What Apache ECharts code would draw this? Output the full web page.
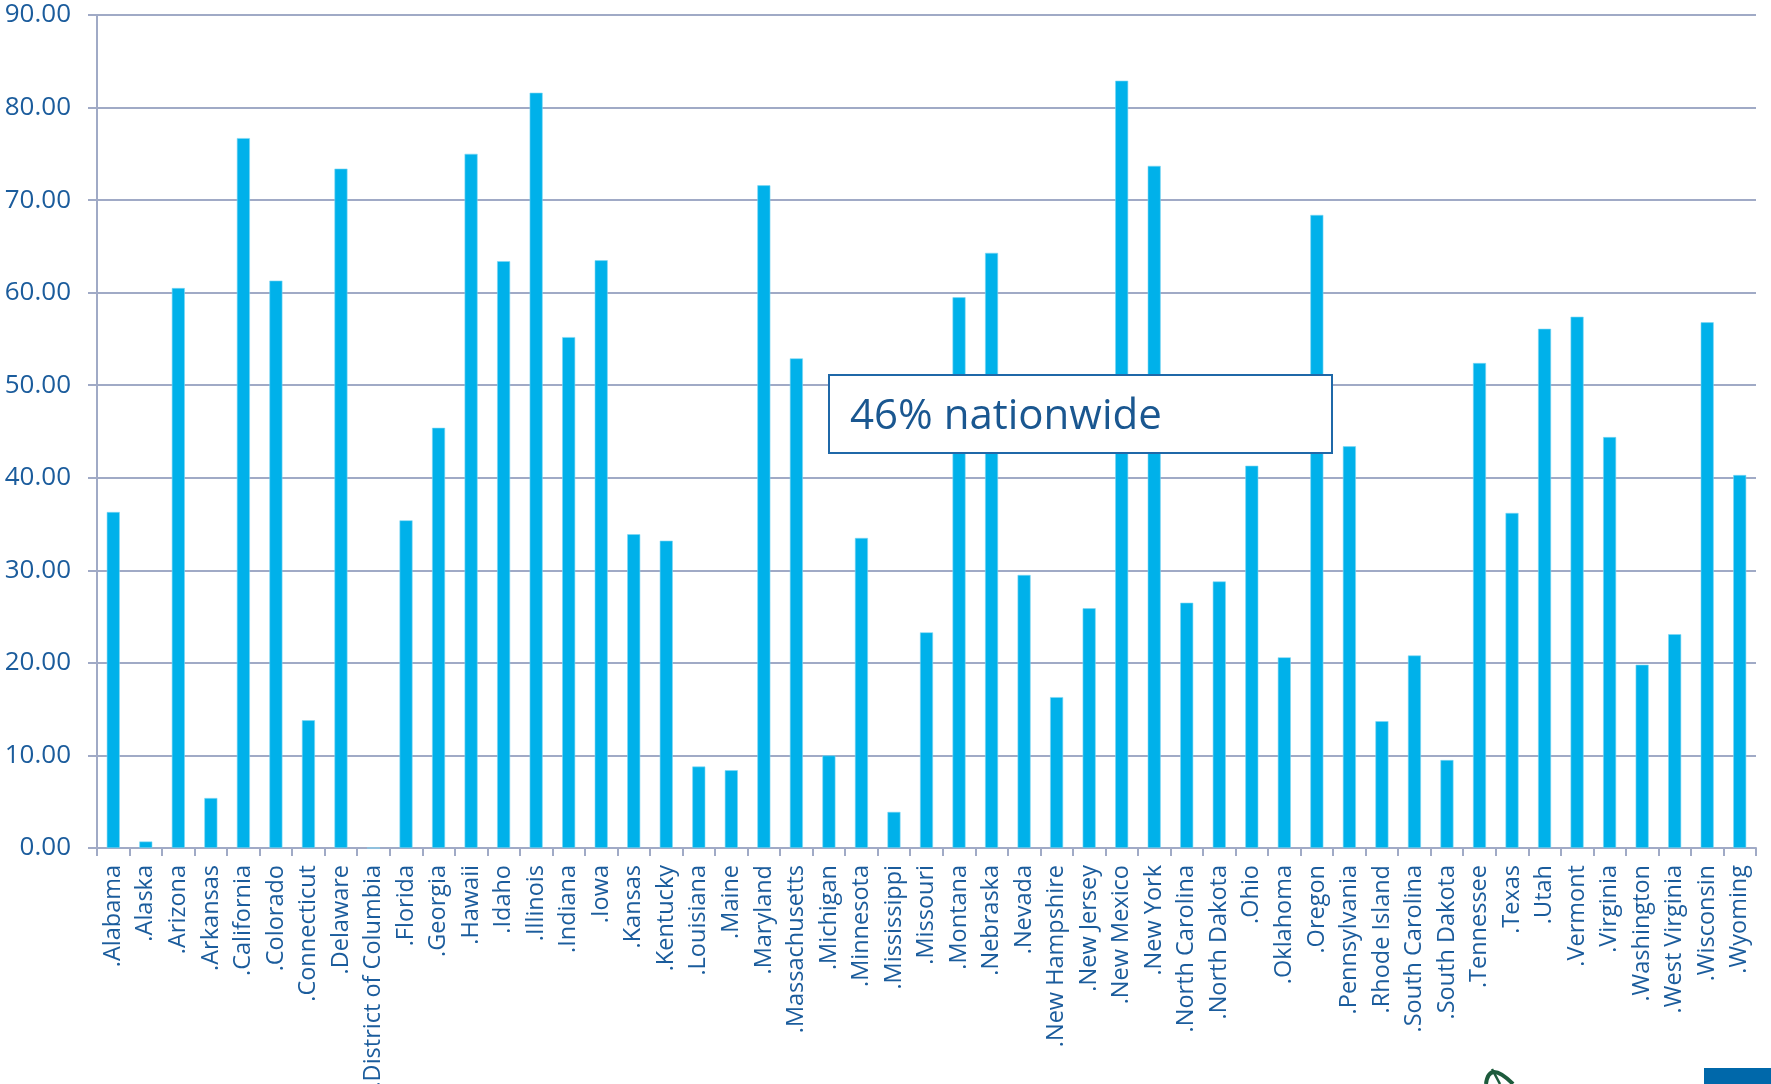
<!DOCTYPE html>
<html>
<head>
<meta charset="utf-8">
<style>
  html, body { margin: 0; padding: 0; background: #ffffff; }
  #chart { width: 1771px; height: 1084px; }
</style>
<script src="https://cdn.jsdelivr.net/npm/echarts@6/dist/echarts.min.js"></script>
</head>
<body>
<div id="chart"></div>
<script>
// States (with the District of Columbia), in alphabetical order
const states = [
  '.Alabama', '.Alaska', '.Arizona', '.Arkansas', '.California', '.Colorado',
  '.Connecticut', '.Delaware', '.District of Columbia', '.Florida', '.Georgia',
  '.Hawaii', '.Idaho', '.Illinois', '.Indiana', '.Iowa', '.Kansas', '.Kentucky',
  '.Louisiana', '.Maine', '.Maryland', '.Massachusetts', '.Michigan', '.Minnesota',
  '.Mississippi', '.Missouri', '.Montana', '.Nebraska', '.Nevada', '.New Hampshire',
  '.New Jersey', '.New Mexico', '.New York', '.North Carolina', '.North Dakota',
  '.Ohio', '.Oklahoma', '.Oregon', '.Pennsylvania', '.Rhode Island',
  '.South Carolina', '.South Dakota', '.Tennessee', '.Texas', '.Utah', '.Vermont',
  '.Virginia', '.Washington', '.West Virginia', '.Wisconsin', '.Wyoming'
];

// Percentage per state
const percentValues = [
  36.3, 0.7, 60.5, 5.4, 76.7, 61.3,
  13.8, 73.4, 0, 35.4, 45.4,
  75.0, 63.4, 81.6, 55.2, 63.5, 33.9, 33.2,
  8.8, 8.4, 71.6, 52.9, 10.0, 33.5,
  3.9, 23.3, 59.5, 64.3, 29.5, 16.3,
  25.9, 82.9, 73.7, 26.5, 28.8,
  41.3, 20.6, 68.4, 43.4, 13.7,
  20.8, 9.5, 52.4, 36.2, 56.1, 57.4,
  44.4, 19.8, 23.1, 56.8, 40.3
];

// Value axis range and step
const yMin = 0;
const yMax = 90;
const yStep = 10;

// Callout text
const calloutText = '46% nationwide';

const FONT = '"Open Sans", "Liberation Sans", sans-serif';
const TEXT_BLUE = '#1b5c9c';
const GRID_BLUE = '#a0aac6';
const BAR_BLUE = '#00b1ea';

const chart = echarts.init(document.getElementById('chart'), null, { renderer: 'canvas' });

chart.setOption({
  animation: false,
  backgroundColor: '#ffffff',
  grid: {
    left: 97, right: 15, top: 15, bottom: 236,
    containLabel: false,
    outerBoundsMode: 'none'
  },
  xAxis: {
    type: 'category',
    data: states,
    boundaryGap: true,
    axisLine: { show: true, lineStyle: { color: GRID_BLUE, width: 2 } },
    axisTick: { show: true, length: 8, lineStyle: { color: GRID_BLUE, width: 2 } },
    axisLabel: {
      interval: 0,
      rotate: 90,
      margin: 17,
      color: TEXT_BLUE,
      fontFamily: FONT,
      fontSize: 23.5
    },
    splitLine: { show: false }
  },
  yAxis: {
    type: 'value',
    min: yMin,
    max: yMax,
    interval: yStep,
    axisLine: { show: true, lineStyle: { color: GRID_BLUE, width: 2 } },
    axisTick: { show: true, length: 9, lineStyle: { color: GRID_BLUE, width: 2 } },
    axisLabel: {
      margin: 26,
      color: TEXT_BLUE,
      fontFamily: FONT,
      fontSize: 26,
      formatter: v => v.toFixed(2)
    },
    splitLine: { show: true, lineStyle: { color: GRID_BLUE, width: 2 } }
  },
  series: [{
    type: 'bar',
    data: percentValues,
    barWidth: 13,
    itemStyle: { color: BAR_BLUE, borderColor: '#7fd6f4', borderWidth: 0.6 }
  }],
  graphic: [
    // callout box
    {
      type: 'rect',
      x: 829,
      y: 375,
      z: 100,
      shape: { x: 0, y: 0, width: 503, height: 78 },
      style: { fill: '#ffffff', stroke: '#1f68a8', lineWidth: 2 }
    },
    {
      type: 'text',
      x: 850,
      y: 417,
      z: 101,
      style: {
        text: calloutText,
        fill: '#1a5790',
        font: '42px ' + FONT,
        verticalAlign: 'middle'
      }
    },
    // footer emblem pieces along the bottom edge
    {
      type: 'bezierCurve',
      shape: { x1: 1486, y1: 1084, x2: 1513, y2: 1084, cpx1: 1489, cpy1: 1060 },
      style: { fill: 'none', stroke: '#1d5b3c', lineWidth: 4 }
    },
    {
      type: 'line',
      shape: { x1: 1492, y1: 1069, x2: 1500, y2: 1084 },
      style: { stroke: '#1d5b3c', lineWidth: 2.5 }
    },
    {
      type: 'rect',
      shape: { x: 1704, y: 1068, width: 67, height: 16 },
      style: { fill: '#0068aa' }
    }
  ]
});
</script>
</body>
</html>
